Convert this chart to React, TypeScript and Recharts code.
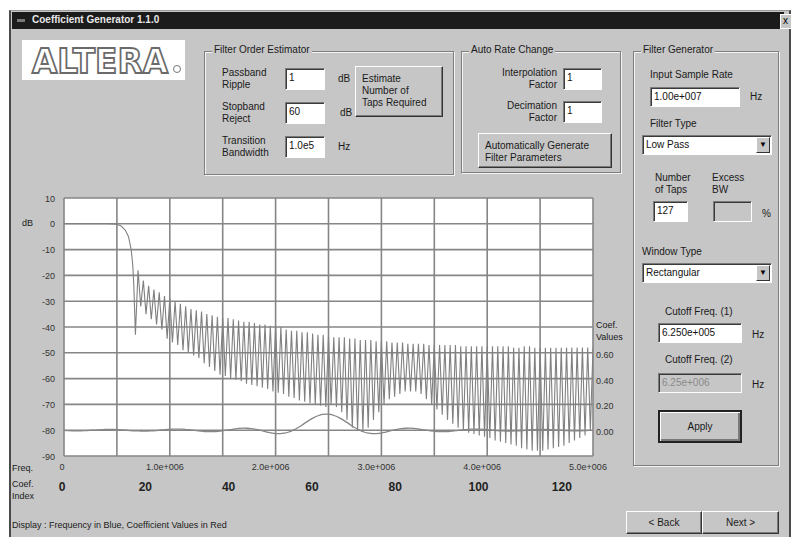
import React from "react";
import { ComposedChart, Line, XAxis, YAxis, CartesianGrid } from "recharts";

// passband + transition band of the frequency response, [MHz, dB]
const passband: [number, number][] = [
    [0, 0], [0.1, 0], [0.2, 0], [0.3, 0], [0.4, 0], [0.5, -0.2], [0.54, -0.8],
    [0.58, -2.5], [0.61, -5], [0.635, -10], [0.65, -16], [0.66, -24], [0.675, -43],
];

// tops of the stopband ripples, [MHz, dB]
const lobePeaks: [number, number][] = [
    [0.70, -18], [0.75, -22], [0.80, -24], [0.85, -25.5], [0.90, -26.5], [0.95, -28],
    [1.00, -29], [1.05, -30], [1.10, -31], [1.15, -32], [1.20, -33], [1.25, -33.5],
    [1.30, -34], [1.35, -35], [1.40, -35.5], [1.45, -36], [1.50, -36.5], [1.55, -36.5],
    [1.60, -37], [1.65, -37.5], [1.70, -38], [1.75, -38], [1.80, -38.5], [1.85, -39],
    [1.90, -39], [1.95, -39.5], [2.00, -39.5], [2.05, -40], [2.10, -41], [2.15, -41.5],
    [2.20, -41.5], [2.25, -42], [2.30, -42], [2.35, -42.5], [2.40, -43], [2.45, -43],
    [2.50, -43.5], [2.55, -44], [2.60, -44], [2.65, -44], [2.70, -44.5], [2.75, -44.5],
    [2.80, -45], [2.85, -45], [2.90, -45], [2.95, -45.5], [3.00, -45.5], [3.05, -45.5],
    [3.10, -46], [3.15, -46], [3.20, -46], [3.25, -46.5], [3.30, -46.5], [3.35, -46.5],
    [3.40, -46.5], [3.45, -47], [3.50, -47], [3.55, -47], [3.60, -47], [3.65, -47],
    [3.70, -47], [3.75, -47.5], [3.80, -47.5], [3.85, -47.5], [3.90, -47.5], [3.95, -47.5],
    [4.00, -47.5], [4.05, -47.5], [4.10, -47.5], [4.15, -47.5], [4.20, -47.5], [4.25, -48],
    [4.30, -48], [4.35, -47.5], [4.40, -47.5], [4.45, -48], [4.50, -48], [4.55, -48],
    [4.60, -48], [4.65, -48], [4.70, -48], [4.75, -48], [4.80, -48], [4.85, -48],
    [4.90, -48], [4.95, -48], [5.00, -48],
];

// bottoms of the ripples (nulls), [MHz, dB]
const lobeNulls: [number, number][] = [
    [0.725, -32], [0.775, -35], [0.825, -37], [0.875, -39], [0.925, -41], [0.975, -44.5],
    [1.025, -46], [1.075, -47], [1.125, -49], [1.175, -50], [1.225, -51], [1.275, -52],
    [1.325, -54], [1.375, -55.5], [1.425, -57], [1.475, -58.5], [1.525, -59], [1.575, -60],
    [1.625, -60.5], [1.675, -61], [1.725, -62], [1.775, -62.5], [1.825, -63], [1.875, -63.5],
    [1.925, -64], [1.975, -65], [2.025, -65.5], [2.075, -66], [2.125, -67], [2.175, -67.5],
    [2.225, -68.5], [2.275, -69], [2.325, -69.5], [2.375, -70], [2.425, -70.5], [2.475, -71],
    [2.525, -70], [2.575, -71], [2.625, -73], [2.675, -76], [2.725, -79], [2.775, -80],
    [2.825, -80], [2.875, -79], [2.925, -76], [2.975, -73], [3.025, -70], [3.075, -68],
    [3.125, -67], [3.175, -66], [3.225, -65], [3.275, -65], [3.325, -65], [3.375, -66],
    [3.425, -68], [3.475, -70], [3.525, -72], [3.575, -74], [3.625, -76], [3.675, -77.5],
    [3.725, -79], [3.775, -80], [3.825, -81], [3.875, -81.5], [3.925, -82], [3.975, -82.5],
    [4.025, -83], [4.075, -84], [4.125, -84.5], [4.175, -85], [4.225, -85.5], [4.275, -86],
    [4.325, -87], [4.375, -87.5], [4.425, -88], [4.475, -88], [4.525, -88], [4.575, -87.5],
    [4.625, -87], [4.675, -86.5], [4.725, -86], [4.775, -85], [4.825, -84], [4.875, -83],
    [4.925, -82], [4.975, -80],
];

// filter coefficients, index 0..126
const coefValues = [
    -0.002, -0.004, -0.005, -0.005, -0.005, -0.004, -0.002, 0, 0.002, 0.004, 0.006, 0.006,
    0.006, 0.005, 0.003, 0, -0.003, -0.005, -0.006, -0.007, -0.007, -0.005, -0.003, 0,
    0.003, 0.006, 0.008, 0.009, 0.008, 0.007, 0.004, 0, -0.004, -0.007, -0.01, -0.011,
    -0.011, -0.009, -0.005, 0, 0.005, 0.01, 0.014, 0.016, 0.015, 0.012, 0.007, 0,
    -0.008, -0.016, -0.023, -0.026, -0.027, -0.022, -0.014, 0, 0.017, 0.037, 0.059, 0.08,
    0.098, 0.112, 0.122, 0.125, 0.122, 0.112, 0.098, 0.08, 0.059, 0.037, 0.017, 0,
    -0.014, -0.022, -0.027, -0.026, -0.023, -0.016, -0.008, 0, 0.007, 0.012, 0.015, 0.016,
    0.014, 0.01, 0.005, 0, -0.005, -0.009, -0.011, -0.011, -0.01, -0.007, -0.004, 0,
    0.004, 0.007, 0.008, 0.009, 0.008, 0.006, 0.003, 0, -0.003, -0.005, -0.007, -0.007,
    -0.006, -0.005, -0.003, 0, 0.003, 0.005, 0.006, 0.006, 0.006, 0.004, 0.002, 0,
    -0.002, -0.004, -0.005, -0.005, -0.005, -0.004, -0.002,
];

const freqTicks = [0, 0.5, 1, 1.5, 2, 2.5, 3, 3.5, 4, 4.5, 5];
const freqTickLabels = ["0", "", "1.0e+006", "", "2.0e+006", "", "3.0e+006", "", "4.0e+006", "", "5.0e+006"];
const dbTicks = [-90, -80, -70, -60, -50, -40, -30, -20, -10, 0, 10];
const coefIndexTicks = [0, 20, 40, 60, 80, 100, 120];
const coefValueTicks = [0, 0.2, 0.4, 0.6];

const responseRows = [...passband, ...lobePeaks, ...lobeNulls]
    .sort((a, b) => a[0] - b[0])
    .map(([f, db]) => ({ f, db }));
const coefRows = coefValues.map((c, n) => ({ n, c }));

const uiFont = "'Liberation Sans', Arial, sans-serif";
const GRAY = "#c6c6c6";

const FreqTick = (p: any) => {
    const i = freqTicks.indexOf(p.payload.value);
    return (
        <text x={p.x - (i === 0 ? 2 : 5)} y={p.y + 14} textAnchor="middle" fontSize={9} fill="#333" fontFamily={uiFont}>
            {freqTickLabels[i] ?? ""}
        </text>
    );
};

const IndexTick = (p: any) => (
    <text x={p.x - 2} y={p.y + 20} textAnchor="middle" fontSize={12} fontWeight="bold" fill="#222" fontFamily={uiFont}>
        {p.payload.value}
    </text>
);

const DbTick = (p: any) => (
    <text x={p.x - 9} y={p.y + 3.5} textAnchor="end" fontSize={9} fill="#333" fontFamily={uiFont}>
        {p.payload.value}
    </text>
);

const CoefTick = (p: any) => (
    <text x={p.x + 3} y={p.y + 5} textAnchor="start" fontSize={9} fill="#333" fontFamily={uiFont}>
        {Number(p.payload.value).toFixed(2)}
    </text>
);

function Txt({ x, y, children, size = 10, bold, color = "#1a1a1a", right, w }: any) {
    return (
        <div style={{
            position: "absolute", left: x, top: y, width: w, fontSize: size, lineHeight: "12px",
            fontWeight: bold ? "bold" : "normal", color, whiteSpace: "pre", textAlign: right ? "right" : "left",
        }}>{children}</div>
    );
}

function Field({ x, y, w, h, value, disabled }: any) {
    return (
        <div style={{
            position: "absolute", left: x, top: y, width: w, height: h, boxSizing: "border-box",
            background: disabled ? GRAY : "#fff", border: "1px solid", borderColor: "#7a7a7a #fff #fff #7a7a7a",
            boxShadow: "inset 1px 1px 0 #3a3a3a", padding: "3px 3px", fontSize: 10, color: disabled ? "#8a8a8a" : "#111",
        }}>{value}</div>
    );
}

function Select({ x, y, w, h, value }: any) {
    return (
        <div style={{ position: "absolute", left: x, top: y }}>
            <Field x={0} y={0} w={w} h={h} value={value} />
            <div style={{
                position: "absolute", left: w - 16, top: 2, width: 14, height: h - 4, boxSizing: "border-box",
                background: GRAY, border: "1px solid", borderColor: "#fff #333 #333 #fff", fontSize: 8,
                textAlign: "center", lineHeight: `${h - 6}px`,
            }}>▼</div>
        </div>
    );
}

function Btn({ x, y, w, h, children, def, center }: any) {
    return (
        <div style={{
            position: "absolute", left: x, top: y, width: w, height: h, boxSizing: "border-box",
            background: GRAY, border: def ? "2px solid #222" : "1px solid",
            borderColor: def ? "#222" : "#fff #333 #333 #fff",
            boxShadow: def ? "inset 1px 1px 0 #fff, inset -2px -2px 0 #7a7a7a" : "inset -1px -1px 0 #7a7a7a",
            fontSize: 10, lineHeight: "12px", padding: center ? 0 : "6px 6px", whiteSpace: "pre",
            display: center ? "flex" : "block", alignItems: "center", justifyContent: "center", color: "#1a1a1a",
        }}>{children}</div>
    );
}

function Group({ x, y, w, h, title }: any) {
    return (
        <div style={{ position: "absolute", left: x, top: y, width: w, height: h }}>
            <div style={{
                position: "absolute", inset: 0, border: "1px solid #7e7e7e",
                boxShadow: "1px 1px 0 #f4f4f4, inset 1px 1px 0 #f4f4f4",
            }} />
            <div style={{ position: "absolute", left: 8, top: -7, background: GRAY, padding: "0 2px", fontSize: 10, color: "#1a1a1a" }}>
                {title}
            </div>
        </div>
    );
}

function Logo() {
    return (
        <div style={{ position: "absolute", left: 22, top: 40, width: 163, height: 40, background: "#fff" }}>
            <svg width={163} height={40}>
                <text x={10} y={33} fontSize={34} fontWeight="bold" fontFamily="'DejaVu Sans', sans-serif"
                    fill="#fff" stroke="#6a6a6a" strokeWidth={1.8} textLength={136} lengthAdjust="spacingAndGlyphs">
                    ALTERA
                </text>
                <circle cx={155} cy={29} r={3.5} fill="none" stroke="#777" strokeWidth={1} />
            </svg>
        </div>
    );
}

function Plot() {
    return (
        <div style={{ position: "absolute", left: 0, top: 185 }}>
            <ComposedChart width={640} height={320} margin={{ top: 13, right: 7, left: 8, bottom: 12 }}>
                <CartesianGrid stroke="#868686" strokeWidth={1.6} fill="#ffffff" />
                <XAxis type="number" dataKey="f" domain={[0, 5]} ticks={freqTicks} interval={0} height={15}
                    tickSize={0} tickMargin={0} axisLine={false} tickLine={false} tick={FreqTick} allowDataOverflow />
                <XAxis xAxisId="idx" type="number" dataKey="n" domain={[0, 127]} ticks={coefIndexTicks} interval={0}
                    height={22} tickSize={0} tickMargin={0} axisLine={false} tickLine={false} tick={IndexTick} allowDataOverflow />
                <YAxis type="number" domain={[-90, 10]} ticks={dbTicks} interval={0} width={56}
                    tickSize={0} tickMargin={0} axisLine={false} tickLine={false} tick={DbTick} allowDataOverflow />
                <YAxis yAxisId="coef" orientation="right" type="number" domain={[-0.2, 1.8]} ticks={coefValueTicks}
                    interval={0} width={40} tickSize={0} tickMargin={0} axisLine={false} tickLine={false}
                    tick={CoefTick} allowDataOverflow />
                <Line data={responseRows} dataKey="db" type="linear" stroke="#808080" strokeWidth={1.1}
                    dot={false} isAnimationActive={false} />
                <Line data={coefRows} xAxisId="idx" yAxisId="coef" dataKey="c" type="monotone" stroke="#868686"
                    strokeWidth={1.3} dot={false} isAnimationActive={false} />
            </ComposedChart>
        </div>
    );
}

export default function App() {
    return (
        <div style={{
            position: "absolute", left: 0, top: 0, width: 791, height: 537, overflow: "hidden",
            background: "#fff", fontFamily: uiFont,
        }}>
            <div style={{
                position: "absolute", left: 9, top: 10, width: 778, height: 540, background: GRAY,
                borderLeft: "2px solid #4a4a4a", borderRight: "2px solid #4a4a4a", borderTop: "1px solid #9a9a9a",
            }} />
            <div style={{ position: "absolute", left: 12, top: 12, width: 772, height: 17, background: "#1b1b1b" }} />
            <div style={{ position: "absolute", left: 17, top: 19, width: 8, height: 3, background: "#777" }} />
            <Txt x={32} y={14} bold color="#e8e8e8" size={10}>Coefficient Generator 1.1.0</Txt>
            <div style={{
                position: "absolute", left: 780, top: 14, width: 12, height: 13, background: GRAY,
                border: "1px solid #fff", fontSize: 10, lineHeight: "12px", paddingLeft: 2,
            }}>x</div>

            <Logo />

            <Group x={204} y={51} w={250} h={124} title="Filter Order Estimator" />
            <Txt x={222} y={67}>{"Passband\nRipple"}</Txt>
            <Field x={285} y={68} w={40} h={22} value="1" />
            <Txt x={338} y={73}>dB</Txt>
            <Txt x={222} y={101}>{"Stopband\nReject"}</Txt>
            <Field x={285} y={102} w={40} h={22} value="60" />
            <Txt x={340} y={107}>dB</Txt>
            <Txt x={222} y={135}>{"Transition\nBandwidth"}</Txt>
            <Field x={285} y={136} w={40} h={22} value="1.0e5" />
            <Txt x={338} y={141}>Hz</Txt>
            <Btn x={355} y={66} w={88} h={51}>{"Estimate\nNumber of\nTaps Required"}</Btn>

            <Group x={461} y={51} w={160} h={122} title="Auto Rate Change" />
            <Txt x={480} y={67} w={77} right>{"Interpolation\nFactor"}</Txt>
            <Field x={563} y={68} w={39} h={22} value="1" />
            <Txt x={480} y={100} w={77} right>{"Decimation\nFactor"}</Txt>
            <Field x={563} y={101} w={39} h={22} value="1" />
            <Btn x={478} y={133} w={134} h={35}>{"Automatically Generate\nFilter Parameters"}</Btn>

            <Group x={633} y={51} w={146} h={415} title="Filter Generator" />
            <Txt x={650} y={69}>Input Sample Rate</Txt>
            <Field x={650} y={87} w={90} h={20} value="1.00e+007" />
            <Txt x={750} y={91}>Hz</Txt>
            <Txt x={650} y={118}>Filter Type</Txt>
            <Select x={642} y={135} w={130} h={20} value="Low Pass" />
            <Txt x={655} y={172}>{"Number\nof Taps"}</Txt>
            <Txt x={712} y={172}>{"Excess\nBW"}</Txt>
            <Field x={653} y={201} w={35} h={21} value="127" />
            <Field x={713} y={201} w={39} h={21} value="" disabled />
            <Txt x={762} y={208}>%</Txt>
            <Txt x={642} y={246}>Window Type</Txt>
            <Select x={642} y={263} w={130} h={20} value="Rectangular" />
            <Txt x={665} y={306}>Cutoff Freq. (1)</Txt>
            <Field x={658} y={323} w={84} h={20} value="6.250e+005" />
            <Txt x={752} y={329}>Hz</Txt>
            <Txt x={665} y={354}>Cutoff Freq. (2)</Txt>
            <Field x={658} y={373} w={84} h={20} value="6.25e+006" disabled />
            <Txt x={752} y={379}>Hz</Txt>
            <Btn x={658} y={410} w={84} h={33} def center>Apply</Btn>

            <Plot />

            <Txt x={22} y={217} size={9}>dB</Txt>
            <Txt x={12} y={462} size={9}>Freq.</Txt>
            <Txt x={12} y={478} size={9}>{"Coef.\nIndex"}</Txt>
            <Txt x={596} y={319} size={9}>{"Coef.\nValues"}</Txt>

            <Txt x={12} y={519} size={9}>Display : Frequency in Blue, Coefficient Values in Red</Txt>
            <Btn x={626} y={511} w={76} h={23} center>{"< Back"}</Btn>
            <Btn x={702} y={511} w={77} h={23} center>{"Next >"}</Btn>
        </div>
    );
}
